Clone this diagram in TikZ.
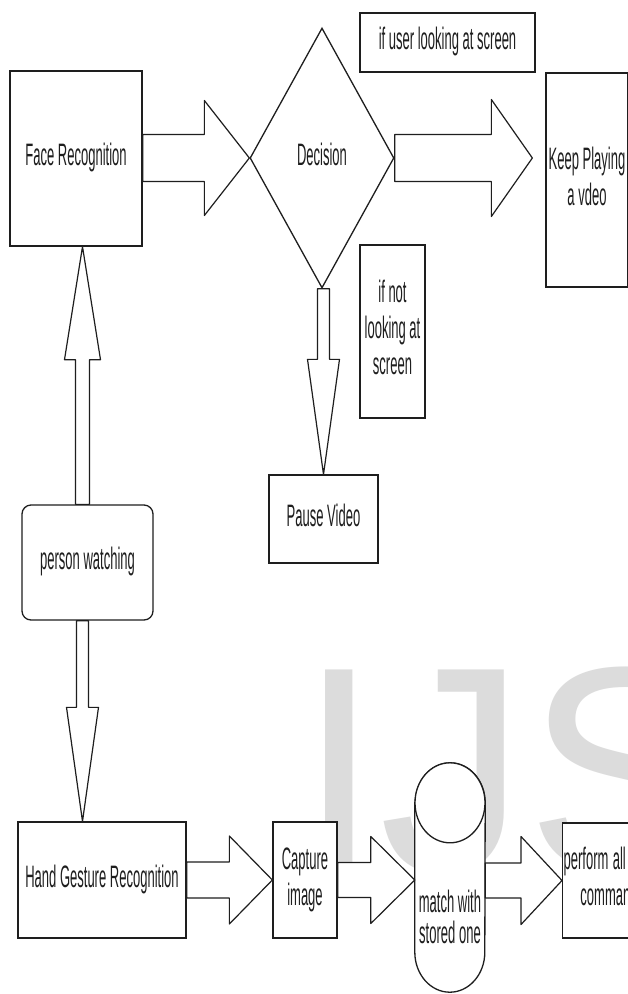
\documentclass[tikz,border=0pt]{standalone}
\usepackage{fontspec}
\setmainfont{Liberation Sans}
\usepackage{graphicx}
\usetikzlibrary{shapes.geometric,calc}

\definecolor{linecol}{HTML}{1E1E1E}
\definecolor{wmgray}{HTML}{DCDCDC}

% narrow (condensed) label text, one or more lines
\newcommand{\cond}[2][c]{\scalebox{0.42}[1]{\begin{tabular}{@{}#1@{}}#2\end{tabular}}}

% hollow block arrows: #1 tail point, #2 tip point,
% #3 shaft half-width, #4 head half-width, #5 head length
\newcommand{\rblock}[5]{%
  \draw[blockarrow] let \p1=(#1), \p2=(#2) in
    (\x1,\y2+#3) -- (\x2-#5,\y2+#3) -- (\x2-#5,\y2+#4) -- (\x2,\y2)
    -- (\x2-#5,\y2-#4) -- (\x2-#5,\y2-#3) -- (\x1,\y2-#3) -- cycle;}
\newcommand{\dblock}[5]{%
  \draw[blockarrow] let \p1=(#1), \p2=(#2) in
    (\x2-#3,\y1) -- (\x2-#3,\y2+#5) -- (\x2-#4,\y2+#5) -- (\x2,\y2)
    -- (\x2+#4,\y2+#5) -- (\x2+#3,\y2+#5) -- (\x2+#3,\y1) -- cycle;}
\newcommand{\ublock}[5]{%
  \draw[blockarrow] let \p1=(#1), \p2=(#2) in
    (\x2-#3,\y1) -- (\x2-#3,\y2-#5) -- (\x2-#4,\y2-#5) -- (\x2,\y2)
    -- (\x2+#4,\y2-#5) -- (\x2+#3,\y2-#5) -- (\x2+#3,\y1) -- cycle;}

\begin{document}
\begin{tikzpicture}[x=1pt,y=-1pt,
  every node/.style={font=\fontsize{31}{36}\selectfont, text=linecol},
  box/.style={draw=linecol, fill=white, line width=1.3pt, inner sep=0pt},
  blockarrow/.style={draw=linecol, fill=white, line width=1.2pt, line join=round},
  cylbody/.style={draw=linecol, fill=white, line width=1.3pt}]

\useasboundingbox (0,0) rectangle (627,994);
\fill[white] (0,0) rectangle (627,994);

% background lettering
\node[anchor=base west, inner sep=0pt, font=\fontsize{293}{293}\selectfont, text=wmgray]
  (wm) at (298,871) {IJS};

% face branch
\node[box, minimum width=132pt, minimum height=175pt] (face) at (76,158.5) {\cond{Face Recognition}};
\node[box, diamond, minimum width=144pt, minimum height=260pt] (dec) at (322,158) {\cond{Decision}};
\node[box, minimum width=175pt, minimum height=59pt] (cond1) at (447.5,42.5) {\cond{if user looking at screen}};
\node[box, minimum width=82pt, minimum height=214pt] (kp) at (587,180) {\cond{Keep Playing\\a vdeo}};
\node[box, minimum width=65pt, minimum height=173pt] (cond2) at (392.5,331.5) {\cond{if not\\looking at\\screen}};
\node[box, minimum width=109pt, minimum height=88pt] (pause) at (323.5,519) {\cond{Pause Video}};

% start
\node[box, rounded corners=9pt, minimum width=131pt, minimum height=115pt] (pw) at (87.5,562.5) {\cond{person watching}};

% gesture branch
\node[box, minimum width=168pt, minimum height=116pt] (hand) at (102,880) {\cond{Hand Gesture Recognition}};
\node[box, minimum width=64pt, minimum height=116pt] (capture) at (305,880) {\cond{Capture\\image}};

% stored gestures (cylinder)
\node[inner sep=0pt, minimum width=70pt, minimum height=149pt] (match) at (450,877.5) {};
\draw[cylbody] (match.north west) -- (match.south west)
  arc[start angle=180, end angle=360, x radius=35pt, y radius=40pt]
  -- (match.north east)
  arc[start angle=0, end angle=180, x radius=35pt, y radius=40pt] -- cycle;
\draw[cylbody] (match.north) ellipse [x radius=35pt, y radius=40pt];
\node (matchlbl) at (450,921) {\cond{match with\\[-5pt]stored one}};

\node[box, anchor=west, minimum width=120pt, minimum height=115pt, text width=120pt, align=left]
  (perform) at (562,880.5) {\hspace*{1pt}\cond[l]{perform all\\\hspace*{40pt}commands}};

% connectors
\coordinate (axis) at (82.5,0);
\coordinate (kptip) at ($(kp.west |- dec.east)+(-13,0)$);

\rblock{face.east}{dec.west}{23.5pt}{57.5pt}{45pt}
\rblock{dec.east}{kptip}{23.5pt}{58.5pt}{41pt}
\dblock{dec.south}{pause.north}{6pt}{16pt}{115pt}
\ublock{pw.north -| axis}{face.south -| axis}{7pt}{18pt}{113pt}
\dblock{pw.south -| axis}{hand.north -| axis}{6pt}{16pt}{114pt}
\rblock{hand.east}{capture.west}{18pt}{44pt}{43pt}
\rblock{capture.east}{match.west |- capture.east}{17.5pt}{43.5pt}{44pt}
\rblock{match.east |- perform.west}{perform.west}{17.5pt}{44pt}{41pt}

\end{tikzpicture}
\end{document}
